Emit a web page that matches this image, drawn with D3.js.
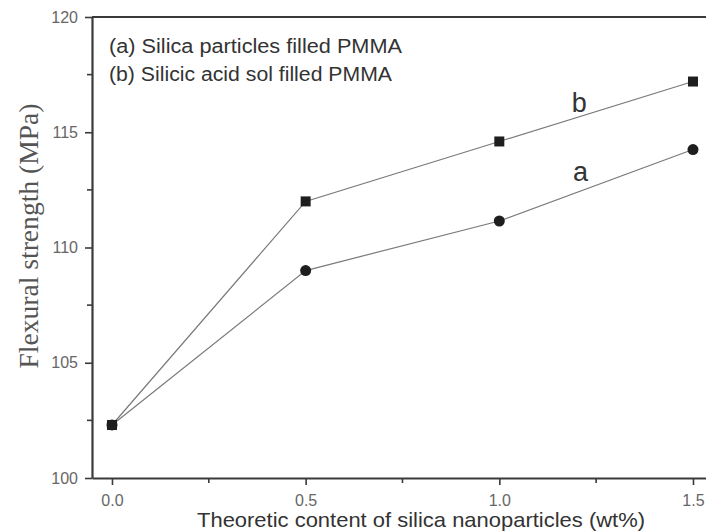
<!DOCTYPE html>
<html><head><meta charset="utf-8">
<script src="https://cdn.jsdelivr.net/npm/d3@7"></script>
<style>body{margin:0;background:#fff}svg{display:block}</style>
</head><body>
<script>
const xValues = [0.0, 0.5, 1.0, 1.5];
const seriesA = [102.3, 109.0, 111.15, 114.25];
const seriesB = [102.3, 112.0, 114.6, 117.2];
const xTicks = [0.0, 0.5, 1.0, 1.5];
const yTicks = [100, 105, 110, 115, 120];
const legendLines = ["(a) Silica particles filled PMMA", "(b) Silicic acid sol filled PMMA"];

const W = 706, H = 532;
const sans = "Liberation Sans, Arial, sans-serif";
const svg = d3.select("body").append("svg").attr("width", W).attr("height", H);
const x = d3.scaleLinear().domain([-0.0516, 1.6]).range([92, 92 + 1.6516 * 387.33]);
const y = d3.scaleLinear().domain([100, 120]).range([478, 17]);
const axisColor = "#3a3a3a";

// frame top
svg.append("line").attr("x1", x(-0.0516)).attr("x2", W + 10).attr("y1", y(120)).attr("y2", y(120))
  .attr("stroke", axisColor).attr("stroke-width", 2);

// X axis
const gx = svg.append("g").attr("transform", `translate(0,${y(100)})`)
  .call(d3.axisBottom(x).tickValues(xTicks).tickFormat(d3.format(".1f")).tickSize(7).tickSizeOuter(0).tickPadding(10));
gx.select(".domain").attr("stroke", axisColor).attr("stroke-width", 2.2);
gx.selectAll(".tick line").attr("stroke", axisColor).attr("stroke-width", 1.6);
gx.selectAll(".tick text").attr("fill", "#666").style("font-family", sans).style("font-size", "16px");
gx.append("g").selectAll("line").data([0.25, 0.75, 1.25]).join("line")
  .attr("x1", d => x(d)).attr("x2", d => x(d)).attr("y1", 0).attr("y2", 5)
  .attr("stroke", axisColor).attr("stroke-width", 1.6);

// Y axis
const gy = svg.append("g").attr("transform", `translate(${x(-0.0516)},0)`)
  .call(d3.axisLeft(y).tickValues(yTicks).tickSize(7).tickSizeOuter(0).tickPadding(7));
gy.select(".domain").attr("stroke", axisColor).attr("stroke-width", 2.2);
gy.selectAll(".tick line").attr("stroke", axisColor).attr("stroke-width", 1.6);
gy.selectAll(".tick text").attr("fill", "#666").style("font-family", sans).style("font-size", "16px");
gy.append("g").selectAll("line").data([102.5, 107.5, 112.5, 117.5]).join("line")
  .attr("x1", 0).attr("x2", -5).attr("y1", d => y(d)).attr("y2", d => y(d))
  .attr("stroke", axisColor).attr("stroke-width", 1.6);

// lines
const line = d3.line().x((d, i) => x(xValues[i])).y(d => y(d));
[seriesA, seriesB].forEach(s => {
  svg.append("path").datum(s).attr("d", line).attr("fill", "none")
    .attr("stroke", "#7a7a7a").attr("stroke-width", 1.2);
});

// markers
svg.append("g").selectAll("circle").data(seriesA).join("circle")
  .attr("cx", (d, i) => x(xValues[i])).attr("cy", d => y(d)).attr("r", 5.5).attr("fill", "#1e1e1e");
svg.append("g").selectAll("rect").data(seriesB).join("rect")
  .attr("x", (d, i) => x(xValues[i]) - 5).attr("y", d => y(d) - 5).attr("width", 10).attr("height", 10)
  .attr("fill", "#1e1e1e");

// series labels
svg.append("text").attr("x", x(1.19)).attr("y", y(112.9)).text("a")
  .style("font-family", sans).style("font-size", "27px").attr("fill", "#333");
svg.append("text").attr("x", x(1.187)).attr("y", y(115.9)).text("b")
  .style("font-family", sans).style("font-size", "27px").attr("fill", "#333");

// legend
svg.append("g").selectAll("text").data(legendLines).join("text")
  .attr("x", 109).attr("y", (d, i) => 53 + i * 28).text(d => d)
  .attr("textLength", (d, i) => i === 0 ? 293 : 283).attr("lengthAdjust", "spacingAndGlyphs")
  .style("font-family", sans).style("font-size", "20px").attr("fill", "#333");

// axis titles
svg.append("text").attr("x", 421).attr("y", 527).attr("text-anchor", "middle")
  .text("Theoretic content of silica nanoparticles (wt%)")
  .attr("textLength", 448).attr("lengthAdjust", "spacingAndGlyphs")
  .style("font-family", sans).style("font-size", "21px").attr("fill", "#333");
svg.append("text").attr("transform", "translate(38,236) rotate(-90)").attr("text-anchor", "middle")
  .text("Flexural strength (MPa)")
  .attr("textLength", 265).attr("lengthAdjust", "spacingAndGlyphs")
  .style("font-family", "Liberation Serif, Times New Roman, serif").style("font-size", "27px").attr("fill", "#555");
</script>
</body></html>
